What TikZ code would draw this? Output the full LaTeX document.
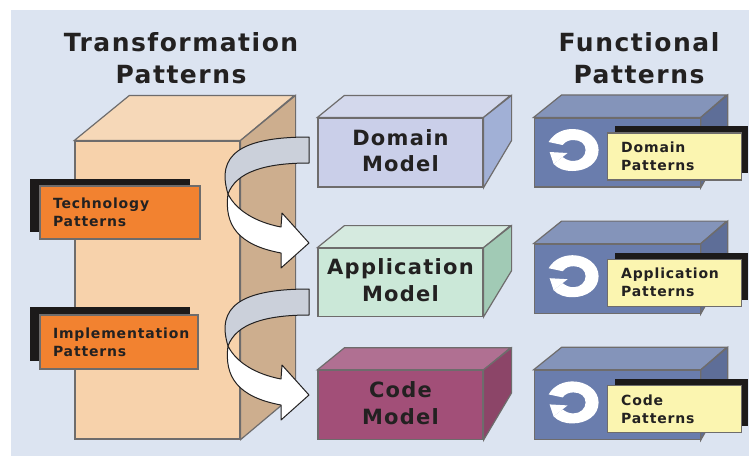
\documentclass[tikz,border=0pt]{standalone}
\usepackage{fontspec}
\setmainfont{DejaVu Sans}
\newfontfamily\widefont[LetterSpace=6]{DejaVu Sans Bold}
\usepackage{tikz}
\usetikzlibrary{positioning, calc}
\definecolor{bgcolor}{RGB}{220, 228, 241}
\definecolor{edgecolor}{RGB}{110, 108, 108}
\definecolor{inkcolor}{RGB}{35, 33, 33}
\definecolor{shadowcolor}{RGB}{28, 26, 26}
\definecolor{towerfront}{RGB}{247, 210, 171}
\definecolor{towertop}{RGB}{246, 216, 184}
\definecolor{towerside}{RGB}{205, 174, 142}
\definecolor{orangenote}{RGB}{242, 130, 48}
\definecolor{yellownote}{RGB}{251, 245, 176}
\definecolor{domainfront}{RGB}{202, 207, 233}
\definecolor{domaintop}{RGB}{211, 216, 236}
\definecolor{domainside}{RGB}{161, 176, 214}
\definecolor{appfront}{RGB}{203, 232, 216}
\definecolor{apptop}{RGB}{213, 234, 223}
\definecolor{appside}{RGB}{161, 202, 181}
\definecolor{codefront}{RGB}{162, 79, 120}
\definecolor{codetop}{RGB}{176, 112, 146}
\definecolor{codeside}{RGB}{140, 69, 104}
\definecolor{funcfront}{RGB}{106, 125, 173}
\definecolor{functop}{RGB}{132, 148, 186}
\definecolor{funcside}{RGB}{94, 110, 152}
\definecolor{grayarrow}{RGB}{203, 208, 218}

\begin{document}
\begin{tikzpicture}[
    x=1pt, y=-1pt,
    title/.style={font=\widefont\fontsize{25}{32}\selectfont, text=inkcolor, align=center, inner sep=0pt},
    modelbox/.style={draw=edgecolor, line width=1.2pt, minimum width=165pt, minimum height=69pt, inner sep=0pt, text depth=4pt, font=\widefont\fontsize{21}{26.5}\selectfont, text=inkcolor, align=center},
    funcbox/.style={draw=edgecolor, line width=1.2pt, fill=funcfront, minimum width=166pt, minimum height=69pt, inner sep=0pt},
    note/.style={draw=edgecolor, line width=1.2pt, font=\widefont\fontsize{14}{18}\selectfont, text=inkcolor, align=left, inner sep=0pt},
    shadowbox/.style={fill=shadowcolor, inner sep=0pt},
    face/.style={draw=edgecolor, line width=1.2pt},
    flow/.style={draw=inkcolor, line width=1pt, line join=round}
]
    \useasboundingbox (0,0) rectangle (749,456);
    \fill[bgcolor] (11,10) rectangle (749,456);

    % Titles
    \node[title] (transform) at (181,58) {Transformation\\Patterns};
    \node[title] (functional) at (639,58) {Functional\\Patterns};

    % Tower
    \node[face, fill=towerfront, minimum width=165pt, minimum height=298pt, inner sep=0pt] (tower) at (157.5,290) {};
    \draw[face, fill=towertop] (tower.north west) -- ++(55,-45) -- ++(165,0) -- (tower.north east) -- cycle;
    \draw[face, fill=towerside] (tower.north east) -- ++(55,-45) -- ++(0,298) -- (tower.south east) -- cycle;

    % Model boxes
    \node[modelbox, fill=domainfront] (domain) at (400.5,152.5) {Domain\\Model};
    \node[modelbox, fill=appfront, minimum height=68pt, below=60pt of domain] (application) {Application\\Model};
    \node[modelbox, fill=codefront, below=53pt of application] (code) {Code\\Model};
    \foreach \name/\tone in {domain/domain, application/app, code/code} {
        \draw[face, fill=\tone top] (\name.north west) -- ++(27,-22) -- ++(166,0) -- (\name.north east) -- cycle;
        \draw[face, fill=\tone side] (\name.north east) -- ++(28,-22) -- ++(0,45) -- (\name.south east) -- cycle;
    }

    % Functional boxes
    \node[funcbox, right=50pt of domain] (fdomain) {};
    \node[funcbox, below=56pt of fdomain] (fapplication) {};
    \node[funcbox, below=56pt of fapplication] (fcode) {};
    \foreach \name/\first [count=\i] in {fdomain/Domain, fapplication/Application, fcode/Code} {
        \draw[face, fill=functop] (\name.north west) -- ++(28,-22.5) -- ++(165,0) -- (\name.north east) -- cycle;
        \draw[face, fill=funcside] (\name.north east) -- ++(27,-22.5) -- ++(0,45) -- (\name.south east) -- cycle;
        % Cycle icon
        \begin{scope}[shift={($(\name.west)+(39,-2.5)$)}]
            \fill[white] (-24,-8) .. controls (-18,-18) and (-8,-21) .. (0,-21)
                .. controls (14,-21) and (26,-12) .. (26,0)
                .. controls (26,13) and (14,21) .. (0,21)
                .. controls (-8,21) and (-14,19) .. (-19,14) -- (-10,7)
                .. controls (-6,10) and (-3,11) .. (1,11)
                .. controls (8,11) and (13,6) .. (13,0)
                .. controls (13,-6) and (8,-10) .. (1,-10)
                .. controls (-3,-10) and (-7,-9) .. (-10,-5) -- cycle;
            \fill[white] (-23,2) -- (-5,3) -- (-19,14) -- cycle;
        \end{scope}
        % Pattern note
        \node[shadowbox, minimum width=133pt, minimum height=47pt, anchor=south west, xshift=81pt, yshift=14pt] (s\i) at (\name.south west) {};
        \node[note, fill=yellownote, minimum width=134pt, minimum height=47pt, text width=106pt, anchor=south west, xshift=73pt, yshift=7pt] (n\i) at (\name.south west) {\first\\Patterns};
    }

    % Notes on the tower
    \node[shadowbox, minimum width=160pt, minimum height=53pt] (techshadow) at (110,205.5) {};
    \node[shadowbox, minimum width=160pt, minimum height=54pt] (implshadow) at (110,334) {};
    \node[note, fill=orangenote, minimum width=160pt, minimum height=53pt, text width=134pt, xshift=10pt, yshift=-7pt] (tech) at (techshadow) {Technology\\Patterns};
    \node[note, fill=orangenote, minimum width=158pt, minimum height=54pt, text width=132pt, xshift=9pt, yshift=-8pt] (impl) at (implshadow) {Implementation\\Patterns};

    % Transformation arrows
    \foreach \dy/\name in {0/upper, 152/lower} {
        \begin{scope}[shift={(0,\dy)}]
            \coordinate (\name bend) at (228,194);
            \draw[flow, fill=white] (\name bend) .. controls (224,225) and (238,245) .. (281,253)
                -- (281,268) -- (309,243) -- (282,213) -- (281,227)
                .. controls (255,222) and (236,210) .. (\name bend) -- cycle;
            \draw[flow, fill=grayarrow] (\name bend) .. controls (216,155) and (240,137) .. (309,137)
                -- (309,163) .. controls (265,163) and (236,172) .. (\name bend) -- cycle;
        \end{scope}
    }
\end{tikzpicture}
\end{document}
